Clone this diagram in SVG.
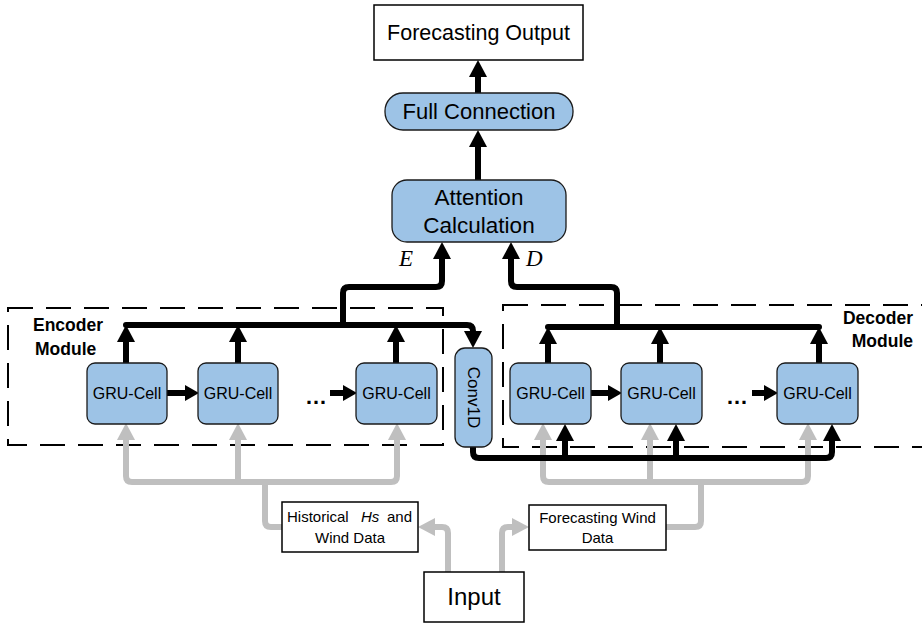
<svg xmlns="http://www.w3.org/2000/svg" width="922" height="623" viewBox="0 0 922 623">
<style>
.box{fill:#fff;stroke:#000;stroke-width:1.5}
.blue{fill:#9dc3e6;stroke:#1a1a1a;stroke-width:1.3}
.t{font-family:"Liberation Sans",Arial,sans-serif;fill:#000}
.b{stroke:#000;stroke-width:6;fill:none}
.g{stroke:#bfbfbf;stroke-width:6;fill:none}
.dash{fill:none;stroke:#000;stroke-width:2;stroke-dasharray:25 13}
.lbl{font-family:"Liberation Serif","Times New Roman",serif;font-style:italic;font-size:23px;fill:#000}
</style>
<defs>
<marker id="ah" markerUnits="userSpaceOnUse" markerWidth="20" markerHeight="20" viewBox="0 -10 20 20" refX="2" refY="0" orient="auto"><path d="M0,-9 L17,0 L0,9 z" fill="#000"/></marker>
<marker id="ahs" markerUnits="userSpaceOnUse" markerWidth="16" markerHeight="18" viewBox="0 -9 16 18" refX="2" refY="0" orient="auto"><path d="M0,-8 L14,0 L0,8 z" fill="#000"/></marker>
<marker id="ag" markerUnits="userSpaceOnUse" markerWidth="20" markerHeight="20" viewBox="0 -10 20 20" refX="2" refY="0" orient="auto-start-reverse"><path d="M0,-9 L17,0 L0,9 z" fill="#bfbfbf"/></marker>
</defs>

<g id="encoder-frame">
<rect class="dash" x="8" y="308" width="435" height="137"/>
<text class="t" x="33" y="331" font-size="17.5" font-weight="bold">Encoder</text>
<text class="t" x="35" y="355" font-size="17.5" font-weight="bold">Module</text>
</g>
<g id="decoder-frame">
<rect class="dash" x="503" y="305" width="450" height="142"/>
<text class="t" x="913" y="324" font-size="17.5" font-weight="bold" text-anchor="end">Decoder</text>
<text class="t" x="913" y="347" font-size="17.5" font-weight="bold" text-anchor="end">Module</text>
</g>

<g id="connectors">
<!-- gray encoder inputs -->
<path class="g" d="M126,438 V476 Q126,482 132,482 H391 Q397,482 397,476 V438" marker-start="url(#ag)" marker-end="url(#ag)"/>
<path class="g" d="M238,482 V438" marker-end="url(#ag)"/>
<path class="g" d="M265,482 V521 Q265,527 271,527 H282"/>
<!-- gray decoder inputs -->
<path class="g" d="M543,438 V476 Q543,482 549,482 H802 Q808,482 808,476 V438" marker-start="url(#ag)" marker-end="url(#ag)"/>
<path class="g" d="M650,482 V438" marker-end="url(#ag)"/>
<path class="g" d="M701,482 V521 Q701,527 695,527 H666"/>
<!-- input arrows -->
<path class="g" d="M448,572 V533 Q448,527 442,527 H433" marker-end="url(#ag)"/>
<path class="g" d="M502,572 V533 Q502,527 508,527 H514" marker-end="url(#ag)"/>

<!-- encoder -->
<path class="b" d="M126,363 V340" marker-end="url(#ah)"/>
<path class="b" d="M238,363 V340" marker-end="url(#ah)"/>
<path class="b" d="M396,363 V340" marker-end="url(#ah)"/>
<path class="b" d="M126,325 H467 Q473,325 473,331 V333" stroke-linecap="round" marker-end="url(#ah)"/>
<path class="b" d="M167,393 H187" marker-end="url(#ahs)"/>
<path class="b" d="M330,393 H345" marker-end="url(#ahs)"/>
<!-- decoder -->
<path class="b" d="M548,363 V342" marker-end="url(#ah)"/>
<path class="b" d="M660,363 V342" marker-end="url(#ah)"/>
<path class="b" d="M819,363 V342" marker-end="url(#ah)"/>
<path class="b" d="M548,327 H819" stroke-linecap="round"/>
<path class="b" d="M591,393 H610" marker-end="url(#ahs)"/>
<path class="b" d="M752,393 H766" marker-end="url(#ahs)"/>
<!-- conv1d to decoder -->
<path class="b" d="M473,447 V452 Q473,458 479,458 H826 Q832,458 832,452 V439" marker-end="url(#ah)"/>
<path class="b" d="M565,458 V439" marker-end="url(#ah)"/>
<path class="b" d="M676,458 V439" marker-end="url(#ah)"/>
<!-- to attention -->
<path class="b" d="M343,325 V293 Q343,287 349,287 H436 Q442,287 442,281 V257" marker-end="url(#ah)"/>
<path class="b" d="M617,327 V293 Q617,287 611,287 H517 Q511,287 511,281 V257" marker-end="url(#ah)"/>
<path class="b" d="M478,180 V145" marker-end="url(#ah)"/>
<path class="b" d="M478,93 V75" marker-end="url(#ah)"/>
</g>

<text class="lbl" x="399" y="266">E</text>
<text class="lbl" x="526" y="266">D</text>
<text class="t" x="305" y="404" font-size="22" font-weight="bold">…</text>
<text class="t" x="726" y="404" font-size="22" font-weight="bold">…</text>

<g id="output">
<rect class="box" x="374" y="5" width="209" height="55"/>
<text class="t" x="478.5" y="40" font-size="21.5" text-anchor="middle">Forecasting Output</text>
</g>
<g id="full-connection">
<rect class="blue" x="385" y="93" width="188" height="37" rx="18"/>
<text class="t" x="479" y="119" font-size="22" text-anchor="middle">Full Connection</text>
</g>
<g id="attention">
<rect class="blue" x="392" y="180" width="174" height="62" rx="15"/>
<text class="t" x="479" y="205" font-size="22.5" text-anchor="middle">Attention</text>
<text class="t" x="479" y="233" font-size="22.5" text-anchor="middle">Calculation</text>
</g>

<g id="enc-cell-1"><rect class="blue" x="87" y="363" width="80" height="61" rx="8"/><text class="t" x="127" y="399" font-size="16" text-anchor="middle">GRU-Cell</text></g>
<g id="enc-cell-2"><rect class="blue" x="198" y="363" width="80" height="61" rx="8"/><text class="t" x="238" y="399" font-size="16" text-anchor="middle">GRU-Cell</text></g>
<g id="enc-cell-3"><rect class="blue" x="356" y="363" width="81" height="61" rx="8"/><text class="t" x="396.5" y="399" font-size="16" text-anchor="middle">GRU-Cell</text></g>

<g id="conv1d">
<rect class="blue" x="455" y="348" width="37" height="99" rx="10"/>
<text class="t" transform="translate(473.5,397.5) rotate(90)" x="0" y="6" font-size="17" text-anchor="middle">Conv1D</text>
</g>

<g id="dec-cell-1"><rect class="blue" x="510" y="363" width="81" height="61" rx="8"/><text class="t" x="550.5" y="399" font-size="16" text-anchor="middle">GRU-Cell</text></g>
<g id="dec-cell-2"><rect class="blue" x="621" y="363" width="81" height="61" rx="8"/><text class="t" x="661.5" y="399" font-size="16" text-anchor="middle">GRU-Cell</text></g>
<g id="dec-cell-3"><rect class="blue" x="777" y="363" width="81" height="61" rx="8"/><text class="t" x="817.5" y="399" font-size="16" text-anchor="middle">GRU-Cell</text></g>

<g id="historical">
<rect class="box" x="282" y="502" width="136" height="50"/>
<text class="t" y="522" font-size="15"><tspan x="287">Historical</tspan><tspan x="361" font-style="italic">Hs</tspan><tspan x="387">and</tspan></text>
<text class="t" x="350" y="543" font-size="15" text-anchor="middle">Wind Data</text>
</g>
<g id="forecasting-wind">
<rect class="box" x="529" y="505" width="137" height="45"/>
<text class="t" x="597.5" y="523" font-size="15" text-anchor="middle">Forecasting Wind</text>
<text class="t" x="597.5" y="543" font-size="15" text-anchor="middle">Data</text>
</g>
<g id="input">
<rect class="box" x="424" y="572" width="100" height="50"/>
<text class="t" x="474" y="605" font-size="24" text-anchor="middle">Input</text>
</g>
</svg>
